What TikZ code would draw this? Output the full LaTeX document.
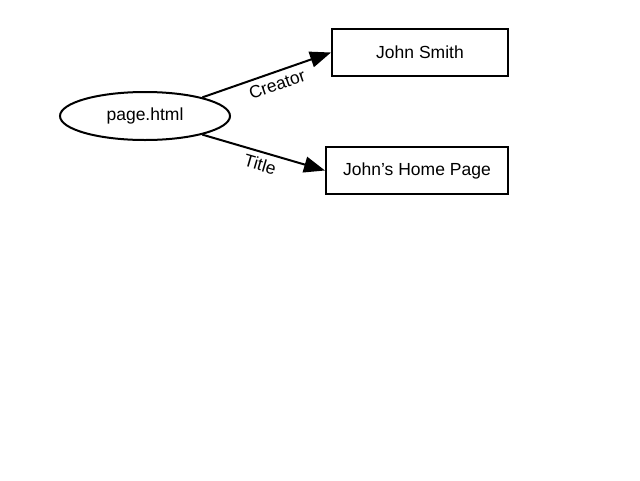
\documentclass[tikz,border=0pt]{standalone}
\usepackage{fontspec}
\setmainfont{Liberation Sans}
\usetikzlibrary{arrows.meta, shapes.geometric, positioning}
\tikzset{every node/.append style={align=center}}

\begin{document}
\begin{tikzpicture}[x=1pt,y=-1pt,
    resource/.style={draw, ellipse, line width=2pt, minimum width=170pt,
                     minimum height=48pt, font=\fontsize{17.5}{20}\selectfont},
    literal/.style={draw, rectangle, line width=2pt, minimum height=47pt,
                    font=\fontsize{17.5}{20}\selectfont},
    prop/.style={-{Triangle[length=21pt,width=16pt]}, line width=2pt},
    proplabel/.style={sloped, below, inner sep=5pt,
                      font=\fontsize{17.5}{20}\selectfont}]

\useasboundingbox (0,0) rectangle (640,480);

% ── Subject and objects ───────────────────────────────────────────────────────
\node[resource] (page) at (145,116) {page.html};
\node[literal, minimum width=176pt] (smith) at (420,52.5) {John Smith};
\node[literal, minimum width=182pt] (home)  at (417,170.5) {John’s Home Page};

% ── Properties ───────────────────────────────────────────────────────────────
\draw[prop] (page.18)  -- node[proplabel, pos=0.55] {Creator} (smith.west);
\draw[prop] (page.-18) -- node[proplabel, pos=0.5] {Title}   (home.west);

\end{tikzpicture}
\end{document}
